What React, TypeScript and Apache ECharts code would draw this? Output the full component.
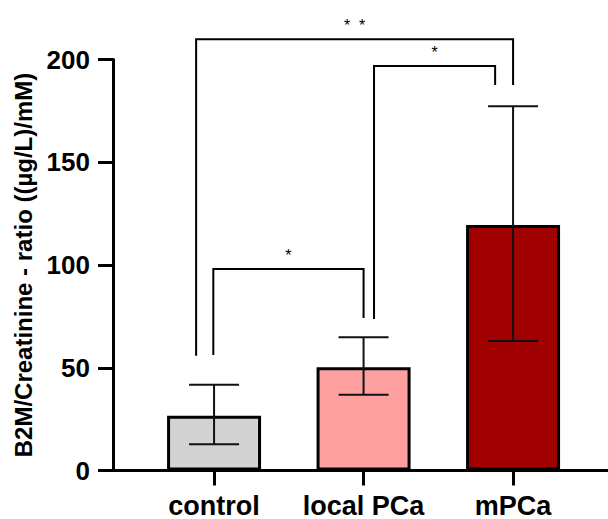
import React, { useEffect, useRef } from "react";
import * as echarts from "echarts";

const categories = ["control", "local PCa", "mPCa"];
const means = [26.6, 50.3, 119.5];
const errLow = [12.8, 36.9, 63.0];
const errHigh = [41.7, 64.9, 177.3];
const barColors = ["#d3d3d3", "#ffa0a0", "#a00000"];

// significance brackets (x in category units, y in data units)
const bracketFrom = [-0.005, -0.12, 1.07];
const bracketTo = [1.0, 2.0, 1.88];
const bracketTop = [98, 209.8, 196.8];
const bracketLeftEnd = [56.2, 55.8, 73.7];
const bracketRightEnd = [74.2, 187.6, 187.6];
const bracketLabels = ["*", "*  *", "*"];

const FONT = '"Liberation Sans", Arial, Helvetica, sans-serif';

export default function App() {
  const ref = useRef<HTMLDivElement>(null);
  useEffect(() => {
    if (!ref.current) return;
    const chart = echarts.init(ref.current, null, { renderer: "svg" });
    const option: any = {
      animation: false,
      backgroundColor: "#ffffff",
      textStyle: { fontFamily: FONT },
      grid: { left: 113, right: 0, top: 59.5, bottom: 47, containLabel: false },
      xAxis: {
        type: "value",
        min: -0.676,
        max: 2.635,
        splitLine: { show: false },
        axisLine: { show: true, onZero: false, lineStyle: { color: "#000", width: 3 } },
        axisTick: {
          show: true,
          customValues: [0, 1, 2],
          length: 15,
          lineStyle: { color: "#000", width: 3 },
        },
        axisLabel: {
          customValues: [0, 1, 2],
          formatter: (v: number) => categories[Math.round(v)] ?? "",
          fontSize: 27,
          lineHeight: 24,
          fontWeight: "bold",
          color: "#000",
          fontFamily: FONT,
          margin: 23,
        },
      },
      yAxis: {
        type: "value",
        min: 0,
        max: 200,
        interval: 50,
        splitLine: { show: false },
        axisLine: { show: true, onZero: false, lineStyle: { color: "#000", width: 3 } },
        axisTick: { show: true, length: 15, lineStyle: { color: "#000", width: 3 } },
        axisLabel: {
          fontSize: 26,
          fontWeight: "bold",
          color: "#000",
          fontFamily: FONT,
          margin: 23,
        },
        name: "B2M/Creatinine - ratio ((µg/L)/mM)",
        nameLocation: "middle",
        nameGap: 77,
        nameTextStyle: { fontSize: 24, fontWeight: "bold", color: "#000", fontFamily: FONT },
      },
      series: [
        {
          type: "bar",
          barWidth: 94,
          data: means.map((v, i) => ({ value: [i, v], itemStyle: { color: barColors[i] } })),
          itemStyle: { borderColor: "#000", borderWidth: 3 },
          z: 2,
        },
        {
          type: "custom",
          z: 5,
          data: categories.map((_, i) => [i, errLow[i], errHigh[i]]),
          encode: { x: 0, y: [1, 2] },
          renderItem: (params: any, api: any) => {
            const x = api.value(0);
            const pLo = api.coord([x, api.value(1)]);
            const pHi = api.coord([x, api.value(2)]);
            const w = 25;
            const style = { stroke: "#111", lineWidth: 2 };
            return {
              type: "group",
              children: [
                { type: "line", shape: { x1: pLo[0], y1: pLo[1], x2: pHi[0], y2: pHi[1] }, style },
                { type: "line", shape: { x1: pHi[0] - w, y1: pHi[1], x2: pHi[0] + w, y2: pHi[1] }, style },
                { type: "line", shape: { x1: pLo[0] - w, y1: pLo[1], x2: pLo[0] + w, y2: pLo[1] }, style },
              ],
            };
          },
        },
        {
          type: "custom",
          z: 6,
          clip: false,
          data: bracketFrom.map((_, i) => [
            bracketFrom[i],
            bracketTo[i],
            bracketTop[i],
            bracketLeftEnd[i],
            bracketRightEnd[i],
          ]),
          encode: { x: [0, 1], y: [2, 3, 4] },
          renderItem: (params: any, api: any) => {
            const x1 = api.value(0);
            const x2 = api.value(1);
            const top = api.value(2);
            const pA = api.coord([x1, api.value(3)]);
            const pB = api.coord([x1, top]);
            const pC = api.coord([x2, top]);
            const pD = api.coord([x2, api.value(4)]);
            return {
              type: "group",
              children: [
                {
                  type: "polyline",
                  shape: { points: [pA, pB, pC, pD] },
                  style: { stroke: "#000", lineWidth: 2, fill: null },
                },
                {
                  type: "text",
                  style: {
                    text: bracketLabels[params.dataIndex],
                    x: (pB[0] + pC[0]) / 2,
                    y: pB[1] - 14,
                    textAlign: "center",
                    textVerticalAlign: "middle",
                    font: `16px ${FONT}`,
                    fill: "#000",
                  },
                },
              ],
            };
          },
        },
      ],
    };
    chart.setOption(option);
    return () => chart.dispose();
  }, []);
  return (
    <div
      ref={ref}
      style={{ position: "fixed", left: 0, top: 0, width: 608, height: 519, background: "#fff" }}
    />
  );
}
